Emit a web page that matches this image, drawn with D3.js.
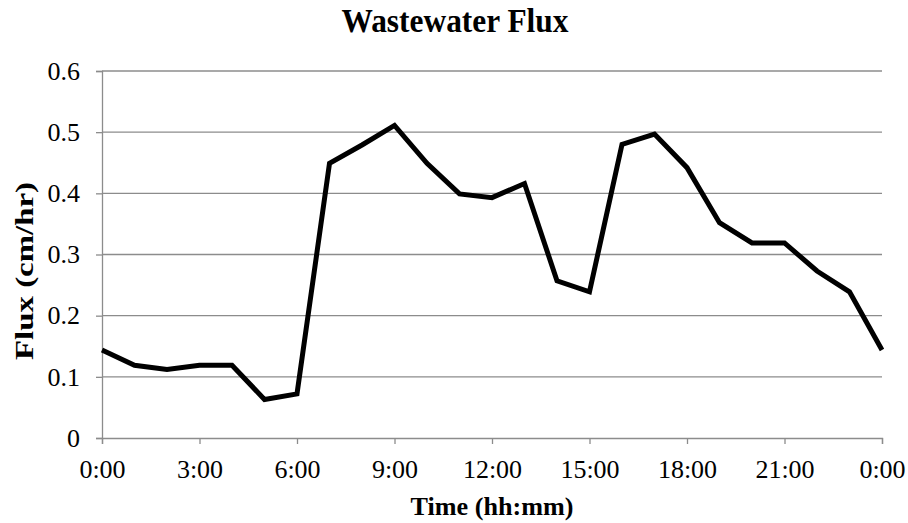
<!DOCTYPE html>
<html>
<head>
<meta charset="utf-8">
<script src="https://cdn.jsdelivr.net/npm/d3@7"></script>
<style>
  body { margin: 0; background: #fff; }
  svg { display: block; font-family: "Liberation Serif", "Times New Roman", serif; }
</style>
</head>
<body>
<svg id="chart" width="908" height="523"></svg>
<script>
// hours since midnight
const hours = [0, 1, 2, 3, 4, 5, 6, 7, 8, 9, 10, 11, 12, 13, 14, 15, 16, 17, 18, 19, 20, 21, 22, 23, 24];
const flux = [0.144, 0.119, 0.112, 0.119, 0.119, 0.063, 0.072, 0.449, 0.479, 0.511, 0.449, 0.399, 0.393, 0.416,
  0.257, 0.239, 0.480, 0.497, 0.442, 0.352, 0.319, 0.319, 0.273, 0.239, 0.144];
const xTicks = [0, 3, 6, 9, 12, 15, 18, 21, 24];
const xTickLabels = ["0:00", "3:00", "6:00", "9:00", "12:00", "15:00", "18:00", "21:00", "0:00"];
const yTicks = [0, 0.1, 0.2, 0.3, 0.4, 0.5, 0.6];

const svg = d3.select("#chart");
const margin = {left: 102, right: 26, top: 71, bottom: 85};
const W = 908, H = 523;
const gridColor = "#8c8c8c";

const x = d3.scaleLinear().domain([0, 24]).range([margin.left, W - margin.right]);
const y = d3.scaleLinear().domain([0, 0.6]).range([H - margin.bottom, margin.top]);

// gridlines
svg.append("g")
  .selectAll("line")
  .data(yTicks.filter(d => d > 0))
  .enter().append("line")
  .attr("x1", x(0)).attr("x2", x(24))
  .attr("y1", d => y(d)).attr("y2", d => y(d))
  .attr("stroke", gridColor)
  .attr("stroke-width", 1.3);

// y axis
const yAxis = svg.append("g")
  .attr("transform", `translate(${x(0)},0)`)
  .call(d3.axisLeft(y).tickValues(yTicks).tickSize(6).tickPadding(16)
    .tickFormat(d => d === 0 ? "0" : d3.format(".1f")(d)));

// x axis
const xAxis = svg.append("g")
  .attr("transform", `translate(0,${y(0)})`)
  .call(d3.axisBottom(x).tickValues(xTicks).tickSize(6).tickPadding(16)
    .tickFormat((d, i) => xTickLabels[i]));

[yAxis, xAxis].forEach(g => {
  g.select(".domain").attr("stroke", gridColor).attr("stroke-width", 1.3);
  g.selectAll(".tick line").attr("stroke", gridColor).attr("stroke-width", 1.3);
  g.selectAll(".tick text")
    .attr("fill", "#000")
    .style("font-family", "'Liberation Serif', 'Times New Roman', serif")
    .style("font-size", "26px");
});

// line
const line = d3.line()
  .x((d, i) => x(hours[i]))
  .y(d => y(d));

svg.append("path")
  .datum(flux)
  .attr("d", line)
  .attr("fill", "none")
  .attr("stroke", "#000")
  .attr("stroke-width", 5)
  .attr("stroke-linejoin", "miter");

// titles
svg.append("text")
  .attr("x", 455).attr("y", 32)
  .attr("text-anchor", "middle")
  .attr("textLength", 227)
  .attr("lengthAdjust", "spacingAndGlyphs")
  .style("font-weight", "bold")
  .style("font-size", "33px")
  .text("Wastewater Flux");

svg.append("text")
  .attr("x", 492).attr("y", 515)
  .attr("text-anchor", "middle")
  .attr("textLength", 163)
  .attr("lengthAdjust", "spacingAndGlyphs")
  .style("font-weight", "bold")
  .style("font-size", "26px")
  .text("Time (hh:mm)");

svg.append("text")
  .attr("transform", `translate(33,271) rotate(-90)`)
  .attr("text-anchor", "middle")
  .attr("textLength", 178)
  .attr("lengthAdjust", "spacingAndGlyphs")
  .style("font-weight", "bold")
  .style("font-size", "25px")
  .text("Flux (cm/hr)");
</script>
</body>
</html>
